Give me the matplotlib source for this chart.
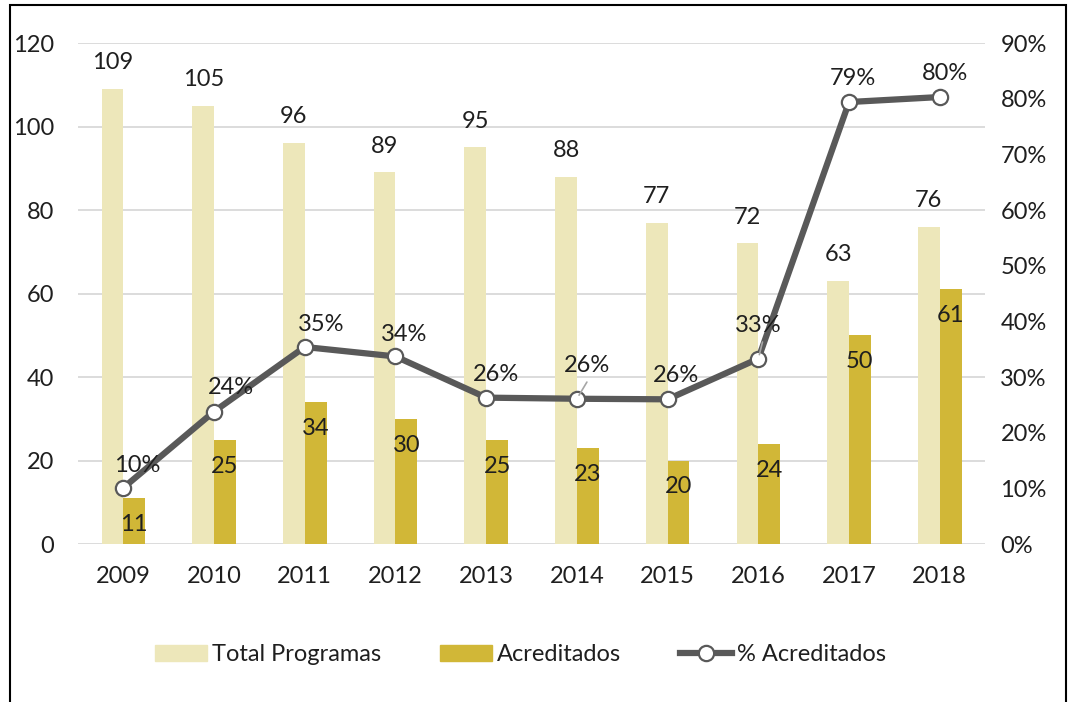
import matplotlib
matplotlib.use("Agg")
import matplotlib.pyplot as plt
from matplotlib.patches import Patch, Rectangle
from matplotlib.lines import Line2D
import numpy as np

plt.rcParams['font.family'] = ['Lato', 'DejaVu Sans']

years = ["2009", "2010", "2011", "2012", "2013", "2014", "2015", "2016", "2017", "2018"]
total = [109, 105, 96, 89, 95, 88, 77, 72, 63, 76]
acred = [11, 25, 34, 30, 25, 23, 20, 24, 50, 61]
pct = [10.1, 23.8, 35.4, 33.7, 26.3, 26.1, 26.0, 33.3, 79.4, 80.3]
pct_labels = ["10%", "24%", "35%", "34%", "26%", "26%", "26%", "33%", "79%", "80%"]

c_total = "#EDE7BA"
c_acred = "#D1B737"
c_line = "#595959"
c_text = "#1F1F1F"
c_grid = "#D9D9D9"
fs = 17

fig = plt.figure(figsize=(10.71, 7.02), dpi=100)
ax = fig.add_axes([0.0728, 0.225, 0.847, 0.7137])
ax2 = ax.twinx()

x = np.arange(len(years))
w = 0.24
ax.bar(x - w / 2, total, w, color=c_total, zorder=2)
ax.bar(x + w / 2, acred, w, color=c_acred, zorder=2)

ax.set_ylim(0, 120)
ax.set_yticks(range(0, 121, 20))
ax.set_xlim(-0.5, len(years) - 0.5)
ax.set_xticks(x)
ax.set_xticklabels(years)
ax.yaxis.grid(True, color=c_grid, lw=1.3, zorder=0)
ax.set_axisbelow(True)

ax2.plot(x, pct, color=c_line, lw=4.5, marker="o", ms=11,
         mfc="white", mec=c_line, mew=1.6, zorder=5, solid_capstyle="round")
ax2.set_ylim(0, 90)
ax2.set_yticks(range(0, 91, 10))
ax2.set_yticklabels([f"{v}%" for v in range(0, 91, 10)])

for a in (ax, ax2):
    for s in a.spines.values():
        s.set_visible(False)
    a.tick_params(length=0, labelsize=fs, colors=c_text)
ax.tick_params(axis="y", pad=17)
ax2.tick_params(axis="y", pad=11)
ax.tick_params(axis="x", pad=16)

for xi, v in zip(x, total):
    ax.annotate(str(v), (xi - w / 2, v), xytext=(0, 19), textcoords="offset points",
                ha="center", va="center", fontsize=fs, color=c_text)
for xi, v in zip(x, acred):
    ax.annotate(str(v), (xi + w / 2, v), xytext=(0, -19), textcoords="offset points",
                ha="center", va="center", fontsize=fs, color=c_text, zorder=6)

dx = [10, 12, 12, 6, 7, 7, 6, 0, 3, 4]
dy = [16, 17, 16, 16, 17, 24, 17, 24, 17, 17]
for i, (xi, v, lab) in enumerate(zip(x, pct, pct_labels)):
    ax2.annotate(lab, (xi, v), xytext=(dx[i], dy[i]), textcoords="offset points",
                 ha="center", va="center", fontsize=fs, color=c_text, zorder=7)
    if dy[i] > 20:
        ax2.annotate("", (xi, v), xytext=(dx[i] * 0.6 + 3, 12), textcoords="offset points",
                     arrowprops=dict(arrowstyle="-", color="#A6A6A6", lw=1.2,
                                     shrinkA=0, shrinkB=3), zorder=6)

handles = [
    Patch(color=c_total, label="Total Programas"),
    Patch(color=c_acred, label="Acreditados"),
    Line2D([], [], color=c_line, lw=4.5, marker="o", ms=11, mfc="white",
           mec=c_line, mew=1.6, label="% Acreditados"),
]
fig.legend(handles=handles, loc="center", bbox_to_anchor=(0.486, 0.067), ncol=3,
           frameon=False, fontsize=fs, handlelength=2.2, handleheight=0.65,
           handletextpad=0.2, columnspacing=2.5, labelcolor=c_text)

fig.patches.append(Rectangle((10 / 1071, -0.02), 1056 / 1071, 1.02 - 5 / 702,
                             transform=fig.transFigure, fill=False,
                             edgecolor="black", lw=1.5))

plt.savefig("out.png", dpi=100)
